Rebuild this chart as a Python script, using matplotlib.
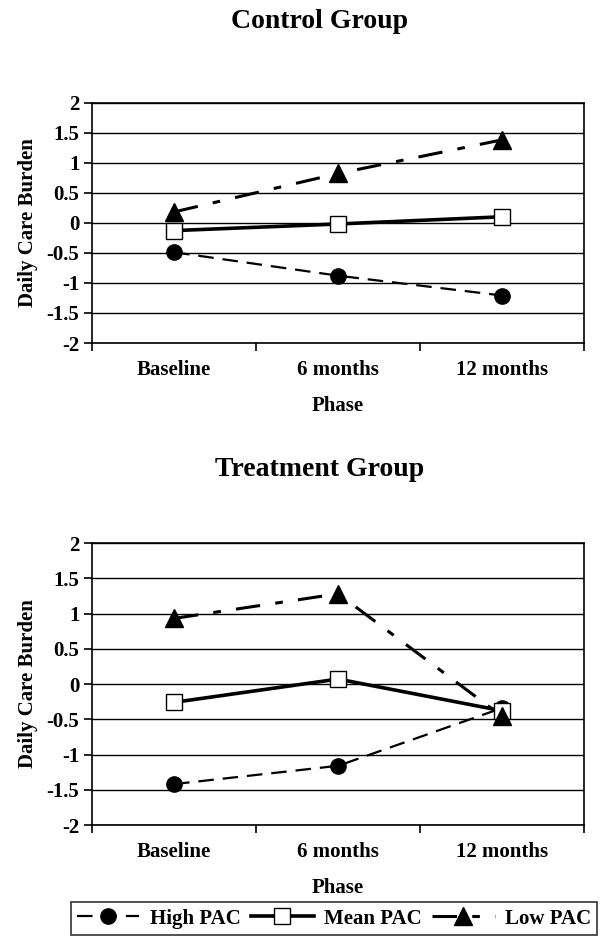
import matplotlib
matplotlib.use('Agg')
import matplotlib.pyplot as plt
import numpy as np

phases = ['Baseline', '6 months', '12 months']
yticks = [-2, -1.5, -1, -0.5, 0, 0.5, 1, 1.5, 2]

control_high = [-0.49, -0.88, -1.21]
control_mean = [-0.13, -0.02, 0.10]
control_low = [0.18, 0.82, 1.38]

treat_high = [-1.42, -1.16, -0.34]
treat_mean = [-0.26, 0.07, -0.38]
treat_low = [0.93, 1.28, -0.46]

plt.rcParams['font.family'] = 'Liberation Serif'
plt.rcParams['font.weight'] = 'bold'

fig = plt.figure(figsize=(6.04, 9.46), dpi=100)
ax1 = fig.add_axes([0.1523, 0.6374, 0.815, 0.2542])
ax2 = fig.add_axes([0.1523, 0.1279, 0.815, 0.2981])

styles = [
    dict(color='black', lw=1.6, ls=(0, (7, 4)), marker='o', ms=11, mfc='black', mec='black'),
    dict(color='black', lw=2.6, ls='-', marker='s', ms=12, mfc='white', mec='black', mew=1.0),
    dict(color='black', lw=2.2, ls=(0, (8, 5, 2.5, 5)), marker='^', ms=13, mfc='black', mec='black'),
]
names = ['High PAC', 'Mean PAC', 'Low PAC']

x = np.arange(len(phases)) + 0.5
handles = []
for ax, title, series, ty in [
    (ax1, 'Control Group', [control_high, control_mean, control_low], 22),
    (ax2, 'Treatment Group', [treat_high, treat_mean, treat_low], 469),
]:
    for ys, st, nm in zip(series, styles, names):
        h, = ax.plot(x, ys, label=nm, **st, zorder=3)
        if ax is ax1:
            handles.append(h)
    ax.set_xlim(0, 3)
    ax.set_ylim(-2, 2)
    ax.set_yticks(yticks)
    ax.set_yticklabels(['%g' % t for t in yticks], fontsize=15, fontweight='bold')
    ax.yaxis.grid(True, color='black', lw=1.0)
    ax.set_axisbelow(True)
    ax.set_xticks([0, 1, 2, 3])
    ax.set_xticklabels([])
    ax.set_xticks(x, minor=True)
    ax.set_xticklabels(phases, minor=True, fontsize=15, fontweight='bold')
    ax.tick_params(axis='x', which='minor', length=0, pad=12)
    ax.tick_params(axis='x', which='major', length=6, width=1.2, direction='out')
    ax.tick_params(axis='y', length=6, width=1.2, direction='out', pad=3)
    for sp in ax.spines.values():
        sp.set_linewidth(1.2)
        sp.set_color('black')
    ax.set_xlabel('Phase', fontsize=15, fontweight='bold', labelpad=12)
    ax.set_ylabel('Daily Care Burden', fontsize=15, fontweight='bold', labelpad=6)
    fig.text(320 / 604, 1 - ty / 946, title, fontsize=20, fontweight='bold',
             ha='center', va='center')

leg = fig.legend(handles=handles, loc='center', bbox_to_anchor=(334 / 604, 1 - 918.5 / 946),
                 ncol=3, frameon=True, prop={'weight': 'bold', 'size': 15},
                 handlelength=3.0, columnspacing=0.5, handletextpad=0.5,
                 borderpad=0.3, borderaxespad=0, fancybox=False, edgecolor='black')
leg.get_frame().set_linewidth(1.2)

fig.savefig('out.png', dpi=100)
